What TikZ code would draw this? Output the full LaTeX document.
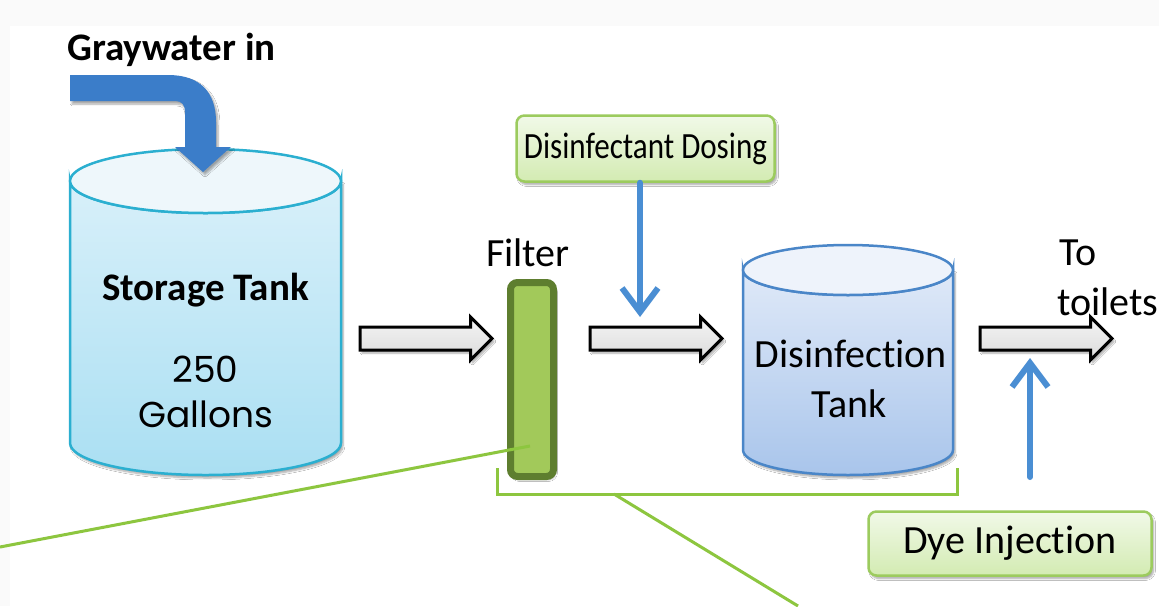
\documentclass[tikz,border=0pt]{standalone}
\usepackage{fontspec}
\setmainfont{Carlito}[Ligatures={NoCommon}]
\newfontfamily\gothic{Poppins}
\newfontfamily\narrowfont{Carlito}[Ligatures={NoCommon},FakeStretch=0.84]
\usetikzlibrary{shapes.arrows,arrows.meta,shadows.blur}
\definecolor{stStroke}{HTML}{2BAFD0}
\definecolor{stTop}{HTML}{EEF7FB}
\definecolor{stBodyT}{HTML}{D8F0FA}
\definecolor{stBodyB}{HTML}{AADFF2}
\definecolor{dtStroke}{HTML}{4A86C8}
\definecolor{dtTop}{HTML}{EEF3FB}
\definecolor{dtBodyT}{HTML}{DFE9F8}
\definecolor{dtBodyB}{HTML}{A9C5EB}
\definecolor{grLine}{HTML}{8DC63F}
\definecolor{filtFill}{HTML}{A2C95A}
\definecolor{filtEdge}{HTML}{5E7E2F}
\definecolor{boxTop}{HTML}{F1F9E8}
\definecolor{boxBot}{HTML}{D3EBB2}
\definecolor{boxEdge}{HTML}{9CCB5E}
\definecolor{flowBlue}{HTML}{4A8ED3}
\definecolor{inBlue}{HTML}{3B7DC9}
\begin{document}
\begin{tikzpicture}[x=1pt,y=-1pt,
  softshadow/.style={blur shadow={shadow xshift=2pt,shadow yshift=-3pt,shadow blur steps=6,shadow opacity=35}},
  hollow/.style={single arrow, draw=black, line width=3pt, top color=gray!8, bottom color=gray!28,
    minimum height=132pt, inner xsep=0pt, inner ysep=10pt, single arrow head extend=10pt,
    single arrow tip angle=90, single arrow head indent=0pt, anchor=tail, softshadow},
  labelbox/.style={draw=boxEdge, line width=2.5pt, rounded corners=8pt, top color=boxTop, bottom color=boxBot,
    inner sep=0pt, softshadow, font=\fontsize{40}{46}\selectfont},
  filterbox/.style={draw=filtEdge, fill=filtFill, line width=7pt, rounded corners=7pt, inner sep=0pt,
    minimum width=43pt, minimum height=194pt, softshadow},
  dosearrow/.style={draw=flowBlue, line width=6pt, -{Straight Barb[length=24pt,width=36pt]}, line cap=round},
  callout/.style={draw=grLine, line width=3pt},
  txt/.style={inner sep=0pt, font=\fontsize{40}{46}\selectfont},
  btxt/.style={inner sep=0pt, font=\fontsize{39}{46}\selectfont\bfseries},
  gtxt/.style={inner sep=0pt, font=\fontsize{36}{42}\gothic}
]
\useasboundingbox (0,0) rectangle (1159,606);
\fill[gray!4] (0,0) rectangle (1159,606);
\fill[white] (10,26) rectangle (1159,606);

% storage tank
\path[softshadow, top color=stBodyT, bottom color=stBodyB, draw=stStroke, line width=2.5pt]
  (70,181) -- (70,443) arc[start angle=180,end angle=0,x radius=135.5,y radius=32]
  -- (341,181) arc[start angle=0,end angle=180,x radius=135.5,y radius=32] -- cycle;
\draw[stStroke, fill=stTop, line width=2.5pt] (205.5,181) ellipse[x radius=135.5,y radius=32];
\node[btxt, anchor=base] (st) at (205.5,300) {Storage Tank};
\node[gtxt, anchor=base] (cap1) at (205.5,382) {250};
\node[gtxt, anchor=base] (cap2) at (205.5,427) {Gallons};

% graywater inlet arrow
\fill[inBlue, softshadow] (70,75) -- (168,75) .. controls (200,75) and (216,92) .. (216,122)
  -- (216,147) -- (231,147) -- (203,172) -- (175,147) -- (185,147) -- (185,112)
  .. controls (185,105) and (182,101) .. (175,101) -- (70,101) -- cycle;
\node[btxt, anchor=base west] (gw) at (67,60) {Graywater in};

% flow arrows
\node[hollow] (a1) at (358.5,338.5) {};
\node[hollow] (a2) at (588.5,338.5) {};
\node[hollow] (a3) at (978.5,338.5) {};

% filter
\node[filterbox] (filter) at (532,379.5) {};
\node[txt, anchor=base] (filtlbl) at (528,266) {Filter};

% disinfection tank
\path[softshadow, top color=dtBodyT, bottom color=dtBodyB, draw=dtStroke, line width=2.5pt]
  (743,270) -- (743,450) arc[start angle=180,end angle=0,x radius=105,y radius=25]
  -- (953,270) arc[start angle=0,end angle=180,x radius=105,y radius=25] -- cycle;
\draw[dtStroke, fill=dtTop, line width=2.5pt] (848,270) ellipse[x radius=105,y radius=25];
\node[txt, anchor=base] (dt1) at (851,367) {Disinfection};
\node[txt, anchor=base] (dt2) at (849,417) {Tank};

% outlet label
\node[txt, anchor=base west] (to1) at (1059,265) {To};
\node[txt, anchor=base west] (to2) at (1057,315) {toilets};

% dosing
\node[labelbox, minimum width=258pt, minimum height=66pt] (dose) at (645.5,148.5)
  {\narrowfont\fontsize{37}{42}\selectfont Disinfectant Dosing};
\coordinate (doseEnd) at (640,317);
\draw[dosearrow] (dose.south -| doseEnd) -- (doseEnd);

% dye
\node[labelbox, minimum width=283pt, minimum height=64pt] (dye) at (1010,543.5) {Dye Injection};
\coordinate (dyeEnd) at (1030,358);
\coordinate (dyeStart) at (1030,477);
\draw[dosearrow] (dyeStart) -- (dyeEnd);

% green bracket and callouts
\coordinate (bl) at (497,468);
\coordinate (br) at (957,468);
\coordinate (bm) at (614,494);
\draw[callout] (bl) |- (br |- bm) -- (br);
\coordinate (c1) at (0,547);
\coordinate (f1) at (530,446);
\draw[callout] (f1) -- (c1);
\coordinate (c2) at (798,606);
\draw[callout] (bm) -- (c2);
\end{tikzpicture}
\end{document}
